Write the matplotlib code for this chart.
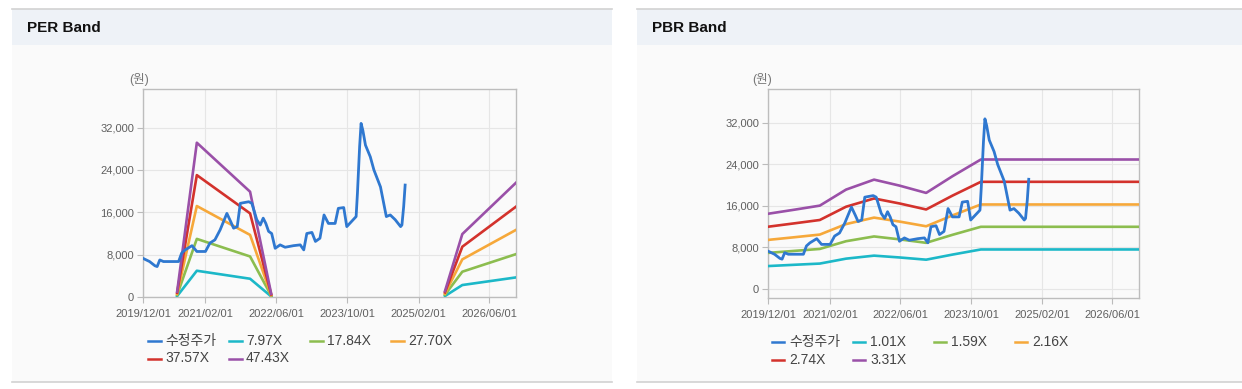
import matplotlib
matplotlib.use('Agg')
import matplotlib.pyplot as plt
from matplotlib.lines import Line2D
from matplotlib.patches import Rectangle
from matplotlib.ticker import FuncFormatter, FixedLocator
import pandas as pd
import numpy as np

plt.rcParams['font.family'] = ['Liberation Sans', 'Noto Sans CJK KR', 'DejaVu Sans']

# ---------------- data ----------------
price_dates = ['2019-12-01', '2020-01-15', '2020-02-21', '2020-03-07', '2020-03-25', '2020-04-19',
               '2020-08-01', '2020-08-22', '2020-09-15', '2020-11-01', '2020-12-04', '2021-02-01',
               '2021-03-04', '2021-04-07', '2021-05-13', '2021-06-28', '2021-07-25', '2021-08-13',
               '2021-09-07', '2021-09-28', '2021-11-25', '2021-12-16', '2022-01-19', '2022-02-12',
               '2022-03-04', '2022-03-22', '2022-04-10', '2022-05-01', '2022-05-25', '2022-06-28',
               '2022-08-01', '2022-09-28', '2022-11-13', '2022-12-07', '2022-12-28', '2023-02-01',
               '2023-02-25', '2023-03-28', '2023-04-25', '2023-05-25', '2023-07-10', '2023-08-01',
               '2023-09-07', '2023-09-28', '2023-12-01', '2023-12-10', '2023-12-25', '2024-01-04',
               '2024-01-16', '2024-02-03', '2024-03-07', '2024-04-01', '2024-05-16', '2024-06-25',
               '2024-07-22', '2024-08-25', '2024-10-01', '2024-10-10', '2024-10-22', '2024-11-01']
price_vals = [7300, 6700, 5900, 5750, 7000, 6700,
              6700, 8300, 8900, 9700, 8600, 8600,
              10200, 10800, 12700, 15800, 14200, 13000,
              13300, 17700, 18000, 17700, 14600, 13600,
              14900, 13900, 12400, 12000, 9200, 9850,
              9400, 9700, 9850, 8900, 12000, 12200,
              10500, 11100, 15500, 13900, 13900, 16750,
              16900, 13300, 15200, 19600, 28400, 32800,
              31500, 28700, 26500, 24000, 20800, 15200,
              15500, 14600, 13300, 13600, 17100, 21150]

# PER band (gap between the two segments marked by NaN)
per_dates = ['2020-07-22', '2020-12-04', '2021-12-04', '2022-04-28', '2022-06-01',
             '2025-08-01', '2025-11-28', '2026-12-01']
per_797 = [170, 4960, 3450, 100, np.nan, 180, 2260, 3700]
per_1784 = [380, 10980, 7660, 230, np.nan, 420, 4780, 8100]
per_2770 = [580, 17190, 11730, 350, np.nan, 640, 7110, 12680]
per_3757 = [800, 23030, 15800, 480, np.nan, 870, 9500, 17070]
per_4743 = [1000, 29150, 19890, 600, np.nan, 1100, 11890, 21590]
per_labels = ['7.97X', '17.84X', '27.70X', '37.57X', '47.43X']

# PBR band
pbr_dates = ['2019-12-01', '2020-06-01', '2020-11-22', '2021-05-22', '2021-12-01',
             '2022-05-25', '2022-11-25', '2023-05-25', '2023-12-07', '2026-12-01']
pbr_101 = [4420, 4670, 4900, 5850, 6430, 6080, 5650, 6630, 7620, 7620]
pbr_159 = [6960, 7350, 7720, 9210, 10130, 9570, 8900, 10440, 11990, 11990]
pbr_216 = [9460, 9980, 10490, 12510, 13760, 13000, 12090, 14180, 16290, 16290]
pbr_274 = [12000, 12660, 13300, 15860, 17450, 16490, 15330, 17990, 20660, 20660]
pbr_331 = [14500, 15290, 16070, 19160, 21080, 19930, 18520, 21730, 24960, 24960]
pbr_labels = ['1.01X', '1.59X', '2.16X', '2.74X', '3.31X']

price_label = '수정주가'
x_ticks = ['2019-12-01', '2021-02-01', '2022-06-01', '2023-10-01', '2025-02-01', '2026-06-01']
y_ticks = [0, 8000, 16000, 24000, 32000]

colors = ['#2f78d0', '#1cb8c8', '#8cbd4f', '#f6a83a', '#d3322c', '#9a50a8']

# ---------------- figure ----------------
W, H = 1242, 389
fig = plt.figure(figsize=(W / 100, H / 100), dpi=100, facecolor='white')


def fx(px):
    return px / W


def fy(py):
    return 1 - py / H


def panel(x0, x1, title):
    fig.patches.append(Rectangle((fx(x0), fy(382)), fx(x1) - fx(x0), fy(45) - fy(382),
                                 transform=fig.transFigure, facecolor='#fafafa',
                                 edgecolor='none', zorder=-5))
    fig.patches.append(Rectangle((fx(x0), fy(45)), fx(x1) - fx(x0), fy(9) - fy(45),
                                 transform=fig.transFigure, facecolor='#eef2f7',
                                 edgecolor='none', zorder=-5))
    for yy in (9, 382):
        fig.add_artist(Line2D([fx(x0), fx(x1)], [fy(yy), fy(yy)], transform=fig.transFigure,
                              color='#d2d2d2', lw=1.2, zorder=-4))
    fig.text(fx(x0 + 15), fy(28), title, fontsize=11, fontweight='bold', color='#111111',
             va='center', ha='left')


panel(12, 612, 'PER Band')
panel(637, 1242, 'PBR Band')


def setup_axes(ax, ylim):
    ax.set_facecolor('none')
    xt = pd.to_datetime(x_ticks)
    ax.set_xlim(pd.Timestamp('2019-12-01'), pd.Timestamp('2026-12-01'))
    ax.set_ylim(*ylim)
    ax.xaxis.set_major_locator(FixedLocator(matplotlib.dates.date2num(xt)))
    ax.set_xticklabels([t.replace('-', '/') for t in x_ticks])
    ax.yaxis.set_major_locator(FixedLocator(y_ticks))
    ax.yaxis.set_major_formatter(FuncFormatter(lambda v, p: f'{int(v):,}'))
    ax.tick_params(axis='both', labelsize=8, labelcolor='#5f5f5f', color='#bbbbbb',
                   length=4, width=0.8)
    ax.tick_params(axis='x', pad=4.5)
    ax.tick_params(axis='y', pad=2.5)
    ax.grid(True, color='#e6e6e6', lw=0.8, zorder=0)
    for s in ax.spines.values():
        s.set_color('#bdbdbd')
        s.set_linewidth(1.0)


def legend(x0, y0, labels, hlen, gap):
    step = 81
    for i, (lab, col) in enumerate(zip(labels, colors)):
        r, c = divmod(i, 4)
        x = x0 + c * step
        y = y0 + r * 17.5
        fig.add_artist(Line2D([fx(x), fx(x + hlen)], [fy(y), fy(y)], transform=fig.transFigure,
                              color=col, lw=1.8))
        fig.text(fx(x + hlen + gap), fy(y), lab, fontsize=10, color='#444444',
                 va='center', ha='left')


# ---- PER ----
ax1 = fig.add_axes([fx(143), fy(297), fx(516) - fx(143), fy(89) - fy(297)])
setup_axes(ax1, (0, 39300))
pdts = pd.to_datetime(per_dates)
for vals, col in zip([per_797, per_1784, per_2770, per_3757, per_4743], colors[1:]):
    ax1.plot(pdts, vals, color=col, lw=1.9, zorder=3)
ax1.plot(pd.to_datetime(price_dates), price_vals, color=colors[0], lw=2.0, zorder=4)
fig.text(fx(139), fy(80), '(원)', fontsize=9, color='#777777', ha='center', va='center')
legend(148, 341, [price_label] + per_labels, 13, 4)

# ---- PBR ----
ax2 = fig.add_axes([fx(768), fy(298), fx(1139) - fx(768), fy(89) - fy(298)])
setup_axes(ax2, (-1735, 38550))
bdts = pd.to_datetime(pbr_dates)
for vals, col in zip([pbr_101, pbr_159, pbr_216, pbr_274, pbr_331], colors[1:]):
    ax2.plot(bdts, vals, color=col, lw=1.9, zorder=3)
ax2.plot(pd.to_datetime(price_dates), price_vals, color=colors[0], lw=2.0, zorder=4)
fig.text(fx(762), fy(80), '(원)', fontsize=9, color='#777777', ha='center', va='center')
legend(772, 342, [price_label] + pbr_labels, 12, 5)

fig.savefig('out.png', dpi=100, facecolor='white')
